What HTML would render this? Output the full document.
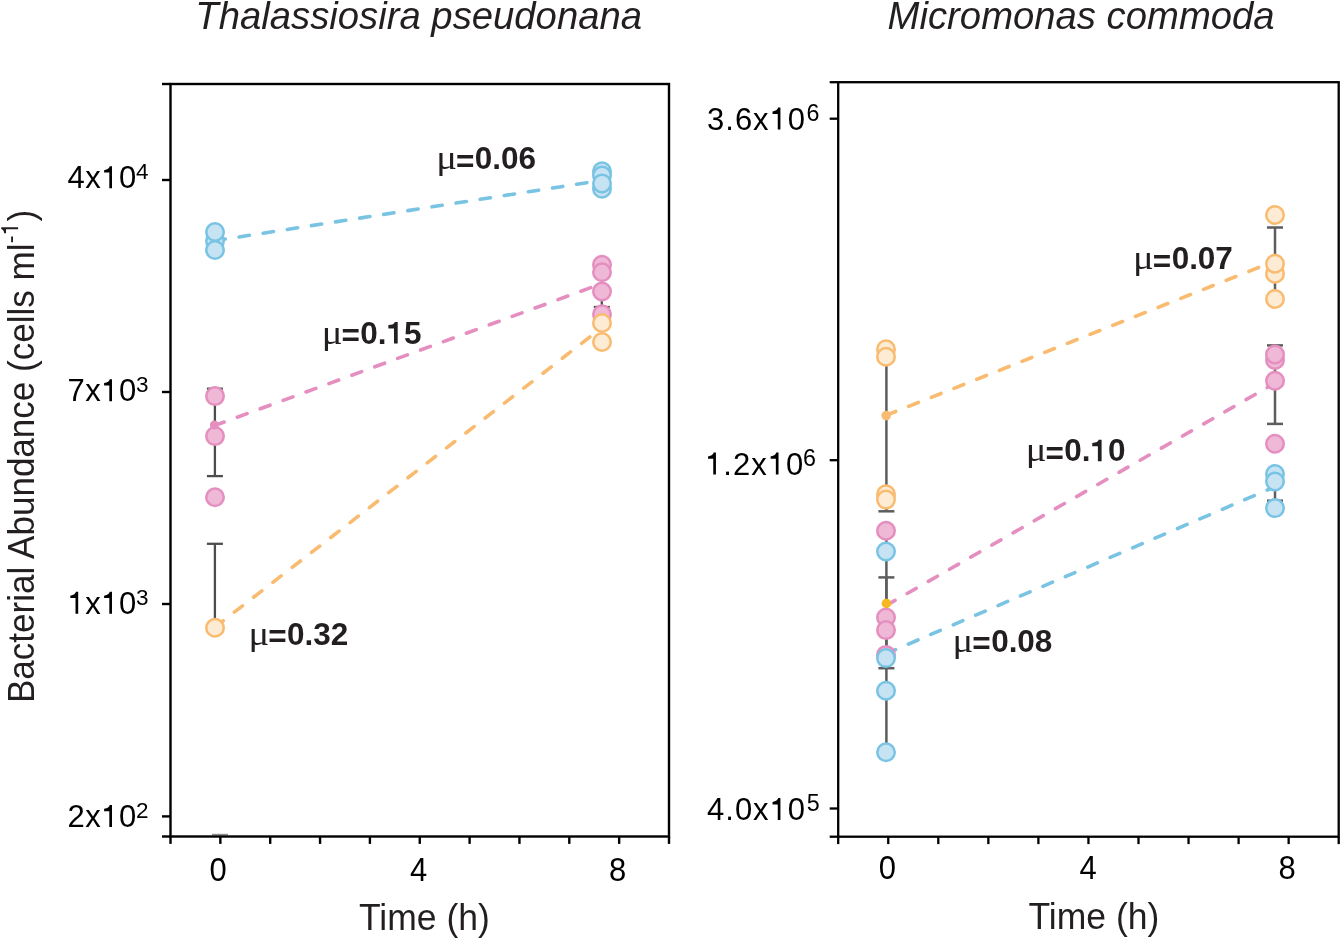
<!DOCTYPE html><html><head><meta charset="utf-8"><style>html,body{margin:0;padding:0;background:#fff;overflow:hidden;}svg{display:block;will-change:transform;}text{font-family:"Liberation Sans",sans-serif;}</style></head><body>
<svg width="1340" height="938" viewBox="0 0 1340 938">
<rect width="1340" height="938" fill="#fff"/>
<text transform="translate(195.30,28.50)" font-size="38.27" fill="#231f20" font-style="italic">Thalassiosira pseudonana</text>
<text transform="translate(887.60,28.50)" font-size="38.27" fill="#231f20" font-style="italic">Micromonas commoda</text>
<g transform="translate(34,703) rotate(-90) scale(1,1.032)"><text id="ylab" font-size="35.04" fill="#231f20">Bacterial Abundance (cells ml<tspan font-size="23.5" dx="0.2" dy="-15.4">-&#8199;</tspan><tspan dx="1" dy="15.4">)</tspan></text>
<path transform="translate(467.52,-15.4) scale(23.5,-23.5)" d="M0.348 0L0.348 0.696L0.276 0.696C0.262 0.64 0.21 0.585 0.094 0.573L0.094 0.497L0.262 0.497L0.262 0Z" fill="#231f20"/></g>
<line x1="212" y1="834.6" x2="228" y2="834.6" stroke="#8c8c8c" stroke-width="1.6"/>
<rect x="170.5" y="84" width="498.5" height="752.5" fill="none" stroke="#000" stroke-width="2.4"/>
<line x1="162.0" y1="84" x2="170.5" y2="84" stroke="#000" stroke-width="2.4"/>
<line x1="162.0" y1="180" x2="170.5" y2="180" stroke="#000" stroke-width="2.4"/>
<line x1="162.0" y1="392" x2="170.5" y2="392" stroke="#000" stroke-width="2.4"/>
<line x1="162.0" y1="604" x2="170.5" y2="604" stroke="#000" stroke-width="2.4"/>
<line x1="162.0" y1="816.4" x2="170.5" y2="816.4" stroke="#000" stroke-width="2.4"/>
<line x1="162.0" y1="836.5" x2="170.5" y2="836.5" stroke="#000" stroke-width="2.4"/>
<line x1="170.5" y1="836.5" x2="170.5" y2="843.9" stroke="#000" stroke-width="2.4"/>
<line x1="220.35" y1="836.5" x2="220.35" y2="843.9" stroke="#000" stroke-width="2.4"/>
<line x1="270.2" y1="836.5" x2="270.2" y2="843.9" stroke="#000" stroke-width="2.4"/>
<line x1="320.05" y1="836.5" x2="320.05" y2="843.9" stroke="#000" stroke-width="2.4"/>
<line x1="369.9" y1="836.5" x2="369.9" y2="843.9" stroke="#000" stroke-width="2.4"/>
<line x1="419.75" y1="836.5" x2="419.75" y2="843.9" stroke="#000" stroke-width="2.4"/>
<line x1="469.6" y1="836.5" x2="469.6" y2="843.9" stroke="#000" stroke-width="2.4"/>
<line x1="519.45" y1="836.5" x2="519.45" y2="843.9" stroke="#000" stroke-width="2.4"/>
<line x1="569.3" y1="836.5" x2="569.3" y2="843.9" stroke="#000" stroke-width="2.4"/>
<line x1="619.1500000000001" y1="836.5" x2="619.1500000000001" y2="843.9" stroke="#000" stroke-width="2.4"/>
<line x1="669.0" y1="836.5" x2="669.0" y2="843.9" stroke="#000" stroke-width="2.4"/>
<text transform="translate(67.40,188.30) scale(1,1.02)" font-size="31" fill="#000"  letter-spacing="0.53">4x&#8199;0</text>
<path transform="translate(101.20,188.30) scale(31,-31.620)" d="M0.348 0L0.348 0.696L0.276 0.696C0.262 0.64 0.21 0.585 0.094 0.573L0.094 0.497L0.262 0.497L0.262 0Z" fill="#000"/>
<text transform="translate(135.89,179.00)" font-size="22.5" fill="#000" >4</text>
<text transform="translate(67.40,401.20) scale(1,1.02)" font-size="31" fill="#000"  letter-spacing="0.53">7x&#8199;0</text>
<path transform="translate(101.20,401.20) scale(31,-31.620)" d="M0.348 0L0.348 0.696L0.276 0.696C0.262 0.64 0.21 0.585 0.094 0.573L0.094 0.497L0.262 0.497L0.262 0Z" fill="#000"/>
<text transform="translate(135.89,391.90)" font-size="22.5" fill="#000" >3</text>
<text transform="translate(67.40,613.80) scale(1,1.02)" font-size="31" fill="#000"  letter-spacing="0.53">&#8199;x&#8199;0</text>
<path transform="translate(67.40,613.80) scale(31,-31.620)" d="M0.348 0L0.348 0.696L0.276 0.696C0.262 0.64 0.21 0.585 0.094 0.573L0.094 0.497L0.262 0.497L0.262 0Z" fill="#000"/>
<path transform="translate(101.20,613.80) scale(31,-31.620)" d="M0.348 0L0.348 0.696L0.276 0.696C0.262 0.64 0.21 0.585 0.094 0.573L0.094 0.497L0.262 0.497L0.262 0Z" fill="#000"/>
<text transform="translate(135.89,604.50)" font-size="22.5" fill="#000" >3</text>
<text transform="translate(67.40,826.90) scale(1,1.02)" font-size="31" fill="#000"  letter-spacing="0.53">2x&#8199;0</text>
<path transform="translate(101.20,826.90) scale(31,-31.620)" d="M0.348 0L0.348 0.696L0.276 0.696C0.262 0.64 0.21 0.585 0.094 0.573L0.094 0.497L0.262 0.497L0.262 0Z" fill="#000"/>
<text transform="translate(135.89,817.60)" font-size="22.5" fill="#000" >2</text>
<text transform="translate(218.00,881.30) scale(1,1.05)" font-size="31" fill="#000" text-anchor="middle">0</text>
<text transform="translate(418.50,881.30) scale(1,1.05)" font-size="31" fill="#000" text-anchor="middle">4</text>
<text transform="translate(617.60,881.30) scale(1,1.05)" font-size="31" fill="#000" text-anchor="middle">8</text>
<text transform="translate(359.00,929.80) scale(1,1.042)" font-size="35.5" fill="#231f20" >Time (h)</text>
<line x1="214.9" y1="388.7" x2="214.9" y2="476.1" stroke="#4d4d4d" stroke-width="2.3"/>
<line x1="206.9" y1="388.7" x2="222.9" y2="388.7" stroke="#4d4d4d" stroke-width="2.3"/>
<line x1="206.9" y1="476.1" x2="222.9" y2="476.1" stroke="#4d4d4d" stroke-width="2.3"/>
<line x1="214.9" y1="543.8" x2="214.9" y2="620" stroke="#4d4d4d" stroke-width="2.3"/>
<line x1="206.9" y1="543.8" x2="222.9" y2="543.8" stroke="#4d4d4d" stroke-width="2.3"/>
<line x1="601.8" y1="268" x2="601.8" y2="307" stroke="#4d4d4d" stroke-width="2.3"/>
<line x1="593.8" y1="307" x2="609.8" y2="307" stroke="#4d4d4d" stroke-width="2.3"/>
<line x1="215" y1="240.7" x2="602" y2="180.3" stroke="#79c3e3" stroke-width="3.6" stroke-dasharray="10.4 14.0" stroke-linecap="round"/>
<line x1="214.4" y1="425.6" x2="602" y2="283.5" stroke="#e48fbf" stroke-width="3.6" stroke-dasharray="10.4 14.0" stroke-linecap="round"/>
<line x1="215" y1="627.1" x2="602" y2="327.6" stroke="#f9bb70" stroke-width="3.6" stroke-dasharray="10.4 14.0" stroke-linecap="round"/>
<circle cx="215" cy="241" r="8.75" fill="#c6e3f4" stroke="#79c3e3" stroke-width="2.5"/>
<circle cx="215" cy="232" r="8.75" fill="#c6e3f4" stroke="#79c3e3" stroke-width="2.5"/>
<circle cx="215" cy="250" r="8.75" fill="#c6e3f4" stroke="#79c3e3" stroke-width="2.5"/>
<circle cx="215" cy="396.1" r="8.75" fill="#efb8d7" stroke="#e48fbf" stroke-width="2.5"/>
<circle cx="215" cy="436.1" r="8.75" fill="#efb8d7" stroke="#e48fbf" stroke-width="2.5"/>
<circle cx="215" cy="497.2" r="8.75" fill="#efb8d7" stroke="#e48fbf" stroke-width="2.5"/>
<circle cx="214.4" cy="425" r="4.5" fill="#e48fbf"/>
<circle cx="215" cy="627.8" r="8.75" fill="#fdebd3" stroke="#f9bb70" stroke-width="2.5"/>
<circle cx="602" cy="171.2" r="8.75" fill="#c6e3f4" stroke="#79c3e3" stroke-width="2.5"/>
<circle cx="602" cy="175.5" r="8.75" fill="#c6e3f4" stroke="#79c3e3" stroke-width="2.5"/>
<circle cx="602" cy="188.7" r="8.75" fill="#c6e3f4" stroke="#79c3e3" stroke-width="2.5"/>
<circle cx="602" cy="183.4" r="8.75" fill="#c6e3f4" stroke="#79c3e3" stroke-width="2.5"/>
<circle cx="602" cy="264.8" r="8.75" fill="#efb8d7" stroke="#e48fbf" stroke-width="2.5"/>
<circle cx="602" cy="272.3" r="8.75" fill="#efb8d7" stroke="#e48fbf" stroke-width="2.5"/>
<circle cx="602" cy="291.5" r="8.75" fill="#efb8d7" stroke="#e48fbf" stroke-width="2.5"/>
<circle cx="602" cy="314.2" r="8.75" fill="#efb8d7" stroke="#e48fbf" stroke-width="2.5"/>
<circle cx="602" cy="323" r="8.75" fill="#fdebd3" stroke="#f9bb70" stroke-width="2.5"/>
<circle cx="602" cy="342" r="8.75" fill="#fdebd3" stroke="#f9bb70" stroke-width="2.5"/>
<text transform="translate(248.47,644.80) scale(1.16,1)" font-size="33.3" fill="#231f20" style="font-family:'Liberation Serif',serif">&#956;</text>
<text transform="translate(268.19,647.20)" font-size="31.5" fill="#231f20" font-weight="bold">=</text>
<text transform="translate(287.05,644.80)" font-size="31.5" fill="#231f20"  font-weight="bold" letter-spacing="-0.034">0.32</text>
<text transform="translate(436.17,169.40) scale(1.16,1)" font-size="33.3" fill="#231f20" style="font-family:'Liberation Serif',serif">&#956;</text>
<text transform="translate(455.89,171.80)" font-size="31.5" fill="#231f20" font-weight="bold">=</text>
<text transform="translate(474.75,169.40)" font-size="31.5" fill="#231f20"  font-weight="bold" letter-spacing="-0.034">0.06</text>
<text transform="translate(321.77,343.50) scale(1.16,1)" font-size="33.3" fill="#231f20" style="font-family:'Liberation Serif',serif">&#956;</text>
<text transform="translate(341.49,345.90)" font-size="31.5" fill="#231f20" font-weight="bold">=</text>
<text transform="translate(360.35,343.50)" font-size="31.5" fill="#231f20"  font-weight="bold" letter-spacing="-0.034">0.&#8199;5</text>
<path transform="translate(386.55,343.50) scale(31.5,-31.500)" d="M0.354 0L0.354 0.6825L0.262 0.6825C0.245 0.62 0.19 0.59 0.058 0.584L0.058 0.476L0.236 0.476L0.236 0Z" fill="#231f20"/>
<rect x="838.2" y="82.2" width="500.5" height="754.5" fill="none" stroke="#000" stroke-width="2.3"/>
<line x1="829.7" y1="82.2" x2="838.2" y2="82.2" stroke="#000" stroke-width="2.3"/>
<line x1="829.7" y1="118.7" x2="838.2" y2="118.7" stroke="#000" stroke-width="2.3"/>
<line x1="829.7" y1="460.2" x2="838.2" y2="460.2" stroke="#000" stroke-width="2.3"/>
<line x1="829.7" y1="808.5" x2="838.2" y2="808.5" stroke="#000" stroke-width="2.3"/>
<line x1="829.7" y1="836.7" x2="838.2" y2="836.7" stroke="#000" stroke-width="2.3"/>
<line x1="838.2" y1="836.7" x2="838.2" y2="844.1" stroke="#000" stroke-width="2.3"/>
<line x1="888.25" y1="836.7" x2="888.25" y2="844.1" stroke="#000" stroke-width="2.3"/>
<line x1="938.3000000000001" y1="836.7" x2="938.3000000000001" y2="844.1" stroke="#000" stroke-width="2.3"/>
<line x1="988.35" y1="836.7" x2="988.35" y2="844.1" stroke="#000" stroke-width="2.3"/>
<line x1="1038.4" y1="836.7" x2="1038.4" y2="844.1" stroke="#000" stroke-width="2.3"/>
<line x1="1088.45" y1="836.7" x2="1088.45" y2="844.1" stroke="#000" stroke-width="2.3"/>
<line x1="1138.5" y1="836.7" x2="1138.5" y2="844.1" stroke="#000" stroke-width="2.3"/>
<line x1="1188.55" y1="836.7" x2="1188.55" y2="844.1" stroke="#000" stroke-width="2.3"/>
<line x1="1238.6" y1="836.7" x2="1238.6" y2="844.1" stroke="#000" stroke-width="2.3"/>
<line x1="1288.65" y1="836.7" x2="1288.65" y2="844.1" stroke="#000" stroke-width="2.3"/>
<line x1="1338.7" y1="836.7" x2="1338.7" y2="844.1" stroke="#000" stroke-width="2.3"/>
<text transform="translate(707.04,129.60) scale(1,1.02)" font-size="31" fill="#000"  letter-spacing="1.0">3.6x&#8199;0</text>
<path transform="translate(769.63,129.60) scale(31,-31.620)" d="M0.348 0L0.348 0.696L0.276 0.696C0.262 0.64 0.21 0.585 0.094 0.573L0.094 0.497L0.262 0.497L0.262 0Z" fill="#000"/>
<text transform="translate(806.42,120.70)" font-size="23.3" fill="#000" >6</text>
<text transform="translate(705.14,474.50) scale(1,1.02)" font-size="31" fill="#000"  letter-spacing="1.0">&#8199;.2x&#8199;0</text>
<path transform="translate(705.14,474.50) scale(31,-31.620)" d="M0.348 0L0.348 0.696L0.276 0.696C0.262 0.64 0.21 0.585 0.094 0.573L0.094 0.497L0.262 0.497L0.262 0Z" fill="#000"/>
<path transform="translate(767.73,474.50) scale(31,-31.620)" d="M0.348 0L0.348 0.696L0.276 0.696C0.262 0.64 0.21 0.585 0.094 0.573L0.094 0.497L0.262 0.497L0.262 0Z" fill="#000"/>
<text transform="translate(802.92,465.70)" font-size="23.3" fill="#000" >6</text>
<text transform="translate(707.04,820.10) scale(1,1.02)" font-size="31" fill="#000"  letter-spacing="1.0">4.0x&#8199;0</text>
<path transform="translate(769.63,820.10) scale(31,-31.620)" d="M0.348 0L0.348 0.696L0.276 0.696C0.262 0.64 0.21 0.585 0.094 0.573L0.094 0.497L0.262 0.497L0.262 0Z" fill="#000"/>
<text transform="translate(806.67,811.00)" font-size="23.3" fill="#000" >5</text>
<text transform="translate(887.30,879.20) scale(1,1.05)" font-size="31" fill="#000" text-anchor="middle">0</text>
<text transform="translate(1088.00,879.20) scale(1,1.05)" font-size="31" fill="#000" text-anchor="middle">4</text>
<text transform="translate(1287.00,879.20) scale(1,1.05)" font-size="31" fill="#000" text-anchor="middle">8</text>
<text transform="translate(1028.50,928.50) scale(1,1.042)" font-size="35.5" fill="#231f20" >Time (h)</text>
<line x1="886.4" y1="349" x2="886.4" y2="511.3" stroke="#5d5d5d" stroke-width="2.5"/>
<line x1="878.4" y1="511.3" x2="894.4" y2="511.3" stroke="#5d5d5d" stroke-width="2.5"/>
<line x1="886.4" y1="540" x2="886.4" y2="752" stroke="#5d5d5d" stroke-width="2.5"/>
<line x1="886.4" y1="577.4" x2="886.4" y2="668.2" stroke="#5d5d5d" stroke-width="2.5"/>
<line x1="878.4" y1="577.4" x2="894.4" y2="577.4" stroke="#5d5d5d" stroke-width="2.5"/>
<line x1="878.4" y1="668.2" x2="894.4" y2="668.2" stroke="#5d5d5d" stroke-width="2.5"/>
<line x1="1275" y1="227.5" x2="1275" y2="299" stroke="#5d5d5d" stroke-width="2.5"/>
<line x1="1267" y1="227.5" x2="1283" y2="227.5" stroke="#5d5d5d" stroke-width="2.5"/>
<line x1="1275" y1="345.4" x2="1275" y2="423.9" stroke="#5d5d5d" stroke-width="2.5"/>
<line x1="1267" y1="345.4" x2="1283" y2="345.4" stroke="#5d5d5d" stroke-width="2.5"/>
<line x1="1267" y1="423.9" x2="1283" y2="423.9" stroke="#5d5d5d" stroke-width="2.5"/>
<line x1="1275" y1="481.5" x2="1275" y2="500.7" stroke="#5d5d5d" stroke-width="2.5"/>
<line x1="1267" y1="500.7" x2="1283" y2="500.7" stroke="#5d5d5d" stroke-width="2.5"/>
<line x1="886" y1="415.3" x2="1275" y2="261" stroke="#f9bb70" stroke-width="3.6" stroke-dasharray="10.4 14.0" stroke-linecap="round"/>
<line x1="886" y1="605.6" x2="1275" y2="383.1" stroke="#e48fbf" stroke-width="3.6" stroke-dasharray="10.4 14.0" stroke-linecap="round"/>
<line x1="886" y1="653.7" x2="1275" y2="486.7" stroke="#79c3e3" stroke-width="3.6" stroke-dasharray="10.4 14.0" stroke-linecap="round"/>
<circle cx="886" cy="349.2" r="8.75" fill="#fdebd3" stroke="#f9bb70" stroke-width="2.5"/>
<circle cx="886" cy="356.7" r="8.75" fill="#fdebd3" stroke="#f9bb70" stroke-width="2.5"/>
<circle cx="886" cy="494.3" r="8.75" fill="#fdebd3" stroke="#f9bb70" stroke-width="2.5"/>
<circle cx="886" cy="499.6" r="8.75" fill="#fdebd3" stroke="#f9bb70" stroke-width="2.5"/>
<circle cx="886.2" cy="415.6" r="4.8" fill="#f9bb70"/>
<circle cx="886" cy="530.8" r="8.75" fill="#efb8d7" stroke="#e48fbf" stroke-width="2.5"/>
<circle cx="886" cy="617.6" r="8.75" fill="#efb8d7" stroke="#e48fbf" stroke-width="2.5"/>
<circle cx="886" cy="630.1" r="8.75" fill="#efb8d7" stroke="#e48fbf" stroke-width="2.5"/>
<circle cx="886" cy="654.9" r="8.75" fill="#efb8d7" stroke="#e48fbf" stroke-width="2.5"/>
<circle cx="886" cy="551.5" r="8.75" fill="#c6e3f4" stroke="#79c3e3" stroke-width="2.5"/>
<circle cx="886" cy="658.1" r="8.75" fill="#c6e3f4" stroke="#79c3e3" stroke-width="2.5"/>
<circle cx="886" cy="690.8" r="8.75" fill="#c6e3f4" stroke="#79c3e3" stroke-width="2.5"/>
<circle cx="886" cy="752.2" r="8.75" fill="#c6e3f4" stroke="#79c3e3" stroke-width="2.5"/>
<circle cx="886.4" cy="603.4" r="4.75" fill="#f6b720"/>
<circle cx="1275" cy="215" r="8.75" fill="#fdebd3" stroke="#f9bb70" stroke-width="2.5"/>
<circle cx="1275" cy="273.7" r="8.75" fill="#fdebd3" stroke="#f9bb70" stroke-width="2.5"/>
<circle cx="1275" cy="263.7" r="8.75" fill="#fdebd3" stroke="#f9bb70" stroke-width="2.5"/>
<circle cx="1275" cy="299" r="8.75" fill="#fdebd3" stroke="#f9bb70" stroke-width="2.5"/>
<circle cx="1275" cy="359.9" r="8.75" fill="#efb8d7" stroke="#e48fbf" stroke-width="2.5"/>
<circle cx="1275" cy="354.5" r="8.75" fill="#efb8d7" stroke="#e48fbf" stroke-width="2.5"/>
<circle cx="1275" cy="380.8" r="8.75" fill="#efb8d7" stroke="#e48fbf" stroke-width="2.5"/>
<circle cx="1275" cy="443.7" r="8.75" fill="#efb8d7" stroke="#e48fbf" stroke-width="2.5"/>
<circle cx="1275" cy="474" r="8.75" fill="#c6e3f4" stroke="#79c3e3" stroke-width="2.5"/>
<circle cx="1275" cy="481.5" r="8.75" fill="#c6e3f4" stroke="#79c3e3" stroke-width="2.5"/>
<circle cx="1275" cy="508.1" r="8.75" fill="#c6e3f4" stroke="#79c3e3" stroke-width="2.5"/>
<text transform="translate(1133.07,269.30) scale(1.16,1)" font-size="33.3" fill="#231f20" style="font-family:'Liberation Serif',serif">&#956;</text>
<text transform="translate(1152.79,271.70)" font-size="31.5" fill="#231f20" font-weight="bold">=</text>
<text transform="translate(1171.65,269.30)" font-size="31.5" fill="#231f20"  font-weight="bold" letter-spacing="-0.034">0.07</text>
<text transform="translate(1025.67,461.30) scale(1.16,1)" font-size="33.3" fill="#231f20" style="font-family:'Liberation Serif',serif">&#956;</text>
<text transform="translate(1045.39,463.70)" font-size="31.5" fill="#231f20" font-weight="bold">=</text>
<text transform="translate(1064.25,461.30)" font-size="31.5" fill="#231f20"  font-weight="bold" letter-spacing="-0.034">0.&#8199;0</text>
<path transform="translate(1090.45,461.30) scale(31.5,-31.500)" d="M0.354 0L0.354 0.6825L0.262 0.6825C0.245 0.62 0.19 0.59 0.058 0.584L0.058 0.476L0.236 0.476L0.236 0Z" fill="#231f20"/>
<text transform="translate(952.57,651.80) scale(1.16,1)" font-size="33.3" fill="#231f20" style="font-family:'Liberation Serif',serif">&#956;</text>
<text transform="translate(972.29,654.20)" font-size="31.5" fill="#231f20" font-weight="bold">=</text>
<text transform="translate(991.15,651.80)" font-size="31.5" fill="#231f20"  font-weight="bold" letter-spacing="-0.034">0.08</text>
</svg></body></html>
